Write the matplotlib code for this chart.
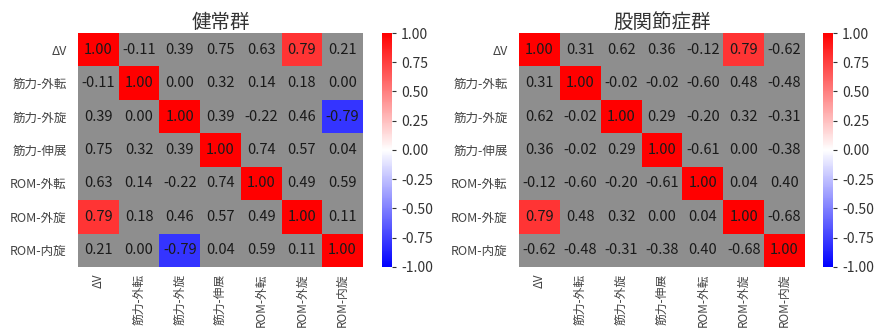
import numpy as np
import matplotlib
matplotlib.use('Agg')
import matplotlib.pyplot as plt

plt.rcParams['font.family'] = ['Noto Sans CJK JP', 'DejaVu Sans']

labels = ['ΔV', '筋力-外転', '筋力-外旋', '筋力-伸展', 'ROM-外転', 'ROM-外旋', 'ROM-内旋']

healthy = np.array([
    [1.00, -0.11, 0.39, 0.75, 0.63, 0.79, 0.21],
    [-0.11, 1.00, 0.00, 0.32, 0.14, 0.18, 0.00],
    [0.39, 0.00, 1.00, 0.39, -0.22, 0.46, -0.79],
    [0.75, 0.32, 0.39, 1.00, 0.74, 0.57, 0.04],
    [0.63, 0.14, -0.22, 0.74, 1.00, 0.49, 0.59],
    [0.79, 0.18, 0.46, 0.57, 0.49, 1.00, 0.11],
    [0.21, 0.00, -0.79, 0.04, 0.59, 0.11, 1.00],
])

hip = np.array([
    [1.00, 0.31, 0.62, 0.36, -0.12, 0.79, -0.62],
    [0.31, 1.00, -0.02, -0.02, -0.60, 0.48, -0.48],
    [0.62, -0.02, 1.00, 0.29, -0.20, 0.32, -0.31],
    [0.36, -0.02, 0.29, 1.00, -0.61, 0.00, -0.38],
    [-0.12, -0.60, -0.20, -0.61, 1.00, 0.04, 0.40],
    [0.79, 0.48, 0.32, 0.00, 0.04, 1.00, -0.68],
    [-0.62, -0.48, -0.31, -0.38, 0.40, -0.68, 1.00],
])

titles = ['健常群', '股関節症群']
threshold = 0.77

fig = plt.figure(figsize=(8.92, 3.30), dpi=100)

axes_pos = [[0.0874, 0.191, 0.3195, 0.709], [0.5818, 0.191, 0.3206, 0.709]]
cbar_pos = [[0.4283, 0.191, 0.0112, 0.709], [0.9226, 0.191, 0.0112, 0.709]]

for data, title, apos, cpos in zip([healthy, hip], titles, axes_pos, cbar_pos):
    ax = fig.add_axes(apos)
    cax = fig.add_axes(cpos)
    # only strong correlations get colour, the rest shows the grey background
    masked = np.ma.masked_where(np.abs(data) < threshold, data)
    ax.set_facecolor('#8e8e8e')
    mesh = ax.pcolormesh(masked, cmap='bwr', vmin=-1, vmax=1)
    for i in range(data.shape[0]):
        for j in range(data.shape[1]):
            ax.text(j + 0.5, i + 0.5, '%.2f' % data[i, j], ha='center',
                    va='center', fontsize=10.5, color='#1a1a1a')
    ax.set_xlim(0, 7)
    ax.set_ylim(7, 0)
    ax.set_xticks(np.arange(7) + 0.5)
    ax.set_yticks(np.arange(7) + 0.5)
    ax.set_xticklabels(labels, rotation=90, fontsize=8.5, color='#444444')
    ax.set_yticklabels(labels, fontsize=9, color='#444444')
    ax.tick_params(axis='y', length=0, pad=8)
    ax.tick_params(axis='x', length=0, pad=5)
    for s in ax.spines.values():
        s.set_visible(False)
    ax.set_title(title, fontsize=14, color='#333333', pad=2)

    cb = fig.colorbar(mesh, cax=cax, ticks=np.arange(-1, 1.01, 0.25))
    cb.ax.set_yticklabels(['%.2f' % t for t in np.arange(-1, 1.01, 0.25)])
    cb.ax.tick_params(labelsize=10, length=3, colors='#333333')
    cb.outline.set_visible(False)

fig.savefig('out.png', dpi=100)
